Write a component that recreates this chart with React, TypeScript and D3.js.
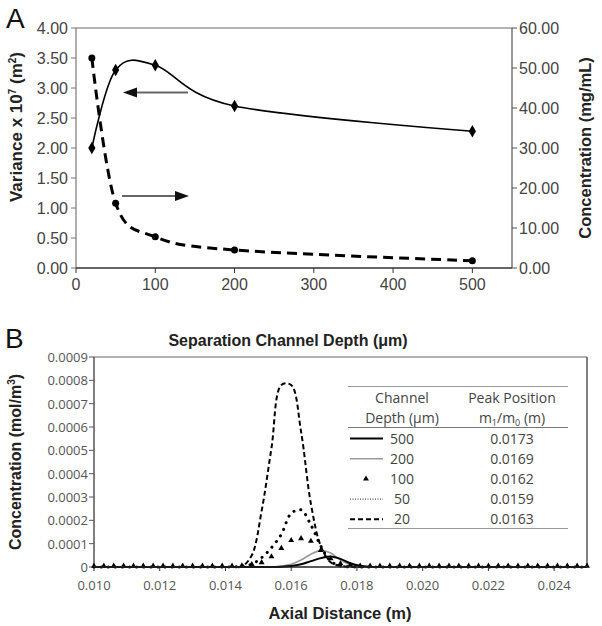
import React from "react";
import * as d3 from "d3";

// ---------- Panel A data ----------
const depthA = [20, 50, 100, 200, 500];
const variance = [2.0, 3.3, 3.38, 2.7, 2.28];
const concentrationA = [52.5, 16.2, 7.8, 4.5, 1.8];
const xTicksA = [0, 100, 200, 300, 400, 500];
const yTicksLeftA = [0, 0.5, 1, 1.5, 2, 2.5, 3, 3.5, 4];
const yTicksRightA = [0, 10, 20, 30, 40, 50, 60];

// ---------- Panel B data ----------
const axialDistance = [
  0.01, 0.0103, 0.0106, 0.0109, 0.0112, 0.0115, 0.0118, 0.0121, 0.0124, 0.0127,
  0.013, 0.0133, 0.0136, 0.0139, 0.0142, 0.0145, 0.0148, 0.0151, 0.0154, 0.0157,
  0.016, 0.0163, 0.0166, 0.0169, 0.0172, 0.0175, 0.0178, 0.0181, 0.0184, 0.0187,
  0.019, 0.0193, 0.0196, 0.0199, 0.0202, 0.0205, 0.0208, 0.0211, 0.0214, 0.0217,
  0.022, 0.0223, 0.0226, 0.0229, 0.0232, 0.0235, 0.0238, 0.0241, 0.0244, 0.0247, 0.025,
];
const zeros15 = [0, 0, 0, 0, 0, 0, 0, 0, 0, 0, 0, 0, 0, 0, 0];
const zeros22 = [0, 0, 0, 0, 0, 0, 0, 0, 0, 0, 0, 0, 0, 0, 0, 0, 0, 0, 0, 0, 0, 0];
// indices 15..28 : 0.0145 .. 0.0184
const depth500 = [...zeros15, 0, 0, 0, 0, 0.000001, 0.000004, 0.000012, 0.000025, 0.000038, 0.000045, 0.000035, 0.000016, 0.000005, 0.000001, ...zeros22];
const depth200 = [...zeros15, 0, 0, 0, 0, 0.000004, 0.000012, 0.00003, 0.000055, 0.00007, 0.00006, 0.00003, 0.00001, 0.000002, 0, ...zeros22];
const depth100 = [...zeros15, 0.000002, 0.000007, 0.000015, 0.00004, 0.000076, 0.00011, 0.000118, 0.000107, 0.000067, 0.000032, 0.00001, 0.000004, 0, 0, ...zeros22];
const depth50 = [...zeros15, 0.000003, 0.000012, 0.00004, 0.000083, 0.00014, 0.00023, 0.000245, 0.00018, 0.00009, 0.000025, 0.000005, 0, 0, 0, ...zeros22];
const depth20 = [...zeros15, 0.000003, 0.00005, 0.00024, 0.00051, 0.00078, 0.00078, 0.00058, 0.00027, 0.00009, 0.00002, 0.000005, 0, 0, 0, ...zeros22];
const xTicksB = [0.01, 0.012, 0.014, 0.016, 0.018, 0.02, 0.022, 0.024];
const yTicksB = [0, 0.0001, 0.0002, 0.0003, 0.0004, 0.0005, 0.0006, 0.0007, 0.0008, 0.0009];
const legendDepths = ["500", "200", "100", "50", "20"];
const legendPeaks = ["0.0173", "0.0169", "0.0162", "0.0159", "0.0163"];

const SANS = "'Liberation Sans', Arial, sans-serif";
const CAL = "'Open Sans', 'Liberation Sans', sans-serif";

export default function App() {
  // Panel A scales
  const xA = d3.scaleLinear().domain([0, 550]).range([76, 512]);
  const yL = d3.scaleLinear().domain([0, 4]).range([268, 28]);
  const yR = d3.scaleLinear().domain([0, 60]).range([268, 28]);
  const curveA = d3.curveCardinal.tension(0);
  const lineVar = d3.line<number>().x((_, i) => xA(depthA[i])).y((d) => yL(d)).curve(curveA);
  const lineConc = d3.line<number>().x((_, i) => xA(depthA[i])).y((d) => yR(d)).curve(curveA);
  const diamond = d3.symbol().type(d3.symbolDiamond).size(45)();

  // Panel B scales
  const xB = d3.scaleLinear().domain([0.01, 0.025]).range([94, 587]);
  const yB = d3.scaleLinear().domain([0, 0.0009]).range([567, 357]);
  const lineB = d3.line<number>().x((_, i) => xB(axialDistance[i])).y((d) => yB(d)).curve(d3.curveCatmullRom.alpha(0.5));
  const tri = d3.symbol().type(d3.symbolTriangle).size(15)();

  const tickColor = "#444";

  return (
    <svg width={602} height={626} style={{ position: "absolute", left: 0, top: 0, background: "#fff" }}>
      <rect width={602} height={626} fill="#fff" />
      {/* ================= Panel A ================= */}
      <text x={6} y={28} fontFamily={SANS} fontSize={28} fill="#111">A</text>
      {/* top border */}
      <line x1={xA(0)} x2={xA(550)} y1={yL(4)} y2={yL(4)} stroke="#999" strokeWidth={1.5} />
      {/* left axis */}
      <line x1={xA(0)} x2={xA(0)} y1={yL(0)} y2={yL(4)} stroke="#777" strokeWidth={1.2} />
      {yTicksLeftA.map((t) => (
        <g key={"yl" + t}>
          <line x1={xA(0) - 5} x2={xA(0)} y1={yL(t)} y2={yL(t)} stroke="#777" />
          <text x={68} y={yL(t) + 5.5} textAnchor="end" fontFamily={SANS} fontSize={16} fill={tickColor}>{t.toFixed(2)}</text>
        </g>
      ))}
      {/* right axis */}
      <line x1={xA(550)} x2={xA(550)} y1={yR(0)} y2={yR(60)} stroke="#555" strokeWidth={1.2} />
      {yTicksRightA.map((t) => (
        <g key={"yr" + t}>
          <line x1={xA(550)} x2={xA(550) + 5} y1={yR(t)} y2={yR(t)} stroke="#555" />
          <text x={519} y={yR(t) + 5.5} textAnchor="start" fontFamily={SANS} fontSize={16} fill={tickColor}>{t.toFixed(2)}</text>
        </g>
      ))}
      {/* bottom axis */}
      <line x1={xA(0)} x2={xA(550)} y1={yL(0)} y2={yL(0)} stroke="#333" strokeWidth={1.5} />
      {xTicksA.map((t) => (
        <g key={"xa" + t}>
          <line x1={xA(t)} x2={xA(t)} y1={yL(0)} y2={yL(0) + 5} stroke="#333" />
          <text x={xA(t)} y={290} textAnchor="middle" fontFamily={SANS} fontSize={16} fill={tickColor}>{t}</text>
        </g>
      ))}
      {/* axis titles */}
      <text transform="translate(22,127) rotate(-90)" textAnchor="middle" fontFamily={SANS} fontSize={17} fontWeight="bold" fill="#222">
        Variance x 10<tspan dy={-6} fontSize={10}>7</tspan><tspan dy={6}> (m</tspan><tspan dy={-6} fontSize={10}>2</tspan><tspan dy={6}>)</tspan>
      </text>
      <text transform="translate(591,148) rotate(-90)" textAnchor="middle" fontFamily={SANS} fontSize={16.5} fontWeight="bold" fill="#222">
        Concentration (mg/mL)
      </text>
      {/* series */}
      <path d={lineVar(variance) || ""} fill="none" stroke="#000" strokeWidth={1.6} />
      <path d={lineConc(concentrationA) || ""} fill="none" stroke="#000" strokeWidth={3} strokeDasharray="10,6" />
      {variance.map((v, i) => (
        <path key={"dv" + i} d={diamond || ""} transform={`translate(${xA(depthA[i])},${yL(v)})`} fill="#000" />
      ))}
      {concentrationA.map((v, i) => (
        <circle key={"dc" + i} cx={xA(depthA[i])} cy={yR(v)} r={3.5} fill="#000" />
      ))}
      {/* arrows */}
      <line x1={188} x2={134} y1={92.5} y2={92.5} stroke="#666" strokeWidth={2} />
      <path d="M123,92.5 L137,87.5 L137,97.5 Z" fill="#111" />
      <line x1={122} x2={176} y1={196} y2={196} stroke="#666" strokeWidth={2} />
      <path d="M189,196 L175,191 L175,201 Z" fill="#111" />

      {/* ================= Panel B ================= */}
      <text x={5} y={348} fontFamily={SANS} fontSize={28} fill="#111">B</text>
      <text x={288} y={346} textAnchor="middle" fontFamily={SANS} fontSize={16} fontWeight="bold" fill="#222">
        Separation Channel Depth (μm)
      </text>
      {/* plot border */}
      <line x1={xB(0.01)} x2={xB(0.025)} y1={yB(0.0009)} y2={yB(0.0009)} stroke="#999" strokeWidth={1.5} />
      <line x1={xB(0.025)} x2={xB(0.025)} y1={yB(0.0009)} y2={yB(0)} stroke="#555" strokeWidth={1.5} />
      <line x1={xB(0.01)} x2={xB(0.01)} y1={yB(0)} y2={yB(0.0009)} stroke="#555" strokeWidth={1.5} />
      {yTicksB.map((t) => (
        <g key={"yb" + t}>
          <line x1={xB(0.01) - 5} x2={xB(0.01)} y1={yB(t)} y2={yB(t)} stroke="#555" />
          <text x={88} y={yB(t) + 5} textAnchor="end" fontFamily={CAL} fontSize={13} fill="#555">{t === 0 ? "0" : t.toFixed(4)}</text>
        </g>
      ))}
      {xTicksB.map((t) => (
        <g key={"xb" + t}>
          <line x1={xB(t)} x2={xB(t)} y1={yB(0)} y2={yB(0) + 4} stroke="#333" />
          <text x={xB(t)} y={590} textAnchor="middle" fontFamily={CAL} fontSize={13} fill="#555">{t.toFixed(3)}</text>
        </g>
      ))}
      <text transform="translate(21,462) rotate(-90)" textAnchor="middle" fontFamily={SANS} fontSize={16} fontWeight="bold" fill="#222">
        Concentration (mol/m<tspan dy={-6} fontSize={10}>3</tspan><tspan dy={6}>)</tspan>
      </text>
      <text x={340} y={619} textAnchor="middle" fontFamily={SANS} fontSize={16.5} fontWeight="bold" fill="#222">
        Axial Distance (m)
      </text>
      {/* series */}
      <path d={lineB(depth200) || ""} fill="none" stroke="#999" strokeWidth={1.6} />
      <path d={lineB(depth500) || ""} fill="none" stroke="#000" strokeWidth={2} />
      <path d={lineB(depth50) || ""} fill="none" stroke="#000" strokeWidth={3} strokeDasharray="0.1,7" strokeLinecap="round" />
      <path d={lineB(depth20) || ""} fill="none" stroke="#000" strokeWidth={2} strokeDasharray="5,3" />
      {depth100.map((v, i) => (
        <path key={"t" + i} d={tri || ""} transform={`translate(${xB(axialDistance[i])},${yB(v) - 1})`} fill="#000" />
      ))}
      {/* bottom axis on top */}
      <line x1={xB(0.01)} x2={xB(0.025)} y1={yB(0)} y2={yB(0)} stroke="#222" strokeWidth={1.5} />

      {/* legend table */}
      <line x1={348} x2={568} y1={386.5} y2={386.5} stroke="#999" strokeWidth={1.2} />
      <line x1={348} x2={568} y1={427.5} y2={427.5} stroke="#777" strokeWidth={1.2} />
      <line x1={348} x2={568} y1={528.5} y2={528.5} stroke="#999" strokeWidth={1.2} />
      <text x={402} y={403} textAnchor="middle" fontFamily={CAL} fontSize={14} fill="#444">Channel</text>
      <text x={402} y={423} textAnchor="middle" fontFamily={CAL} fontSize={14} fill="#444">Depth (μm)</text>
      <text x={512} y={403} textAnchor="middle" fontFamily={CAL} fontSize={14} fill="#444">Peak Position</text>
      <text x={512} y={423} textAnchor="middle" fontFamily={CAL} fontSize={14} fill="#444">
        m<tspan dy={3} fontSize={9}>1</tspan><tspan dy={-3}>/m</tspan><tspan dy={3} fontSize={9}>0</tspan><tspan dy={-3}> (m)</tspan>
      </text>
      {legendDepths.map((d, i) => {
        const cy = 438.5 + i * 20.2;
        return (
          <g key={"lg" + d}>
            {i === 0 && <line x1={350} x2={383} y1={cy} y2={cy} stroke="#000" strokeWidth={2} />}
            {i === 1 && <line x1={350} x2={383} y1={cy} y2={cy} stroke="#999" strokeWidth={1.5} />}
            {i === 2 && <path d={tri || ""} transform={`translate(366,${cy})`} fill="#000" />}
            {i === 3 && <line x1={350} x2={383} y1={cy} y2={cy} stroke="#555" strokeWidth={1.2} strokeDasharray="1,1.5" />}
            {i === 4 && <line x1={350} x2={383} y1={cy} y2={cy} stroke="#000" strokeWidth={2} strokeDasharray="5,3" />}
            <text x={402} y={cy + 5} textAnchor="middle" fontFamily={CAL} fontSize={14} fill="#444">{d}</text>
            <text x={512} y={cy + 5} textAnchor="middle" fontFamily={CAL} fontSize={14} fill="#444">{legendPeaks[i]}</text>
          </g>
        );
      })}
    </svg>
  );
}
